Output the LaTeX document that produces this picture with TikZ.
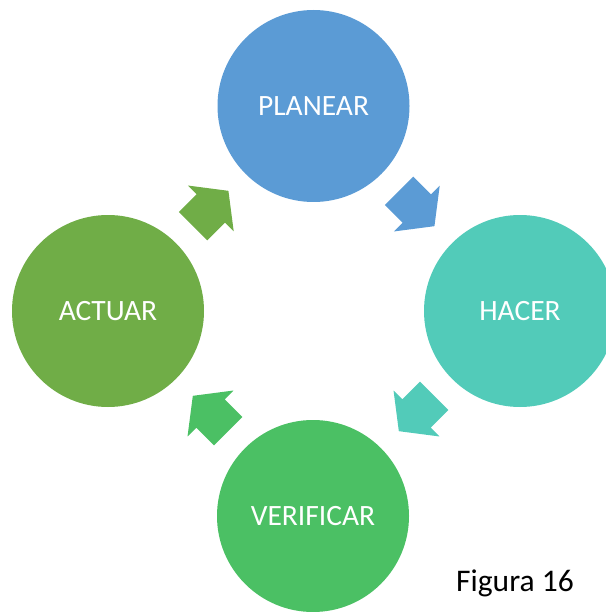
\documentclass[tikz,border=0pt]{standalone}
\usepackage{fontspec}
\setmainfont{Carlito}
\usetikzlibrary{calc}
\definecolor{cBlue}{HTML}{5B9BD5}
\definecolor{cTeal}{HTML}{52CBB9}
\definecolor{cGreen}{HTML}{4BC064}
\definecolor{cOlive}{HTML}{70AD47}
\tikzset{
  circ/.style={circle, minimum size=192pt, inner sep=0pt, text=white,
    font=\fontsize{29.5}{34}\selectfont},
  blockarrow/.pic={\fill[#1] (-25,-20) -- (0,-20) -- (0,-32.5) -- (25,0)
    -- (0,32.5) -- (0,20) -- (-25,20) -- cycle;}
}
\begin{document}
\begin{tikzpicture}[x=1pt,y=-1pt]
\useasboundingbox (0,0) rectangle (605,612);
\node[circ, fill=cBlue]  (planear)   at (313.5,106) {PLANEAR};
\node[circ, fill=cTeal]  (hacer)     at (520,311)   {HACER};
\node[circ, fill=cGreen] (verificar) at (313,516)   {VERIFICAR};
\node[circ, fill=cOlive] (actuar)    at (108,311)   {ACTUAR};
\coordinate (m1) at ($(planear)!0.5!(hacer)$);
\coordinate (m2) at ($(hacer)!0.5!(verificar)$);
\coordinate (m3) at ($(verificar)!0.5!(actuar)$);
\coordinate (m4) at ($(actuar)!0.5!(planear)$);
\pic[rotate=-45]  at (m1) {blockarrow=cBlue};
\pic[rotate=-135] at (m2) {blockarrow=cTeal};
\pic[rotate=135]  at (m3) {blockarrow=cGreen};
\pic[rotate=45]   at (m4) {blockarrow=cOlive};
\node[anchor=base west, inner sep=0pt, font=\fontsize{31.5}{36}\selectfont] (fig) at (456,591.7) {Figura 16};
\end{tikzpicture}
\end{document}
